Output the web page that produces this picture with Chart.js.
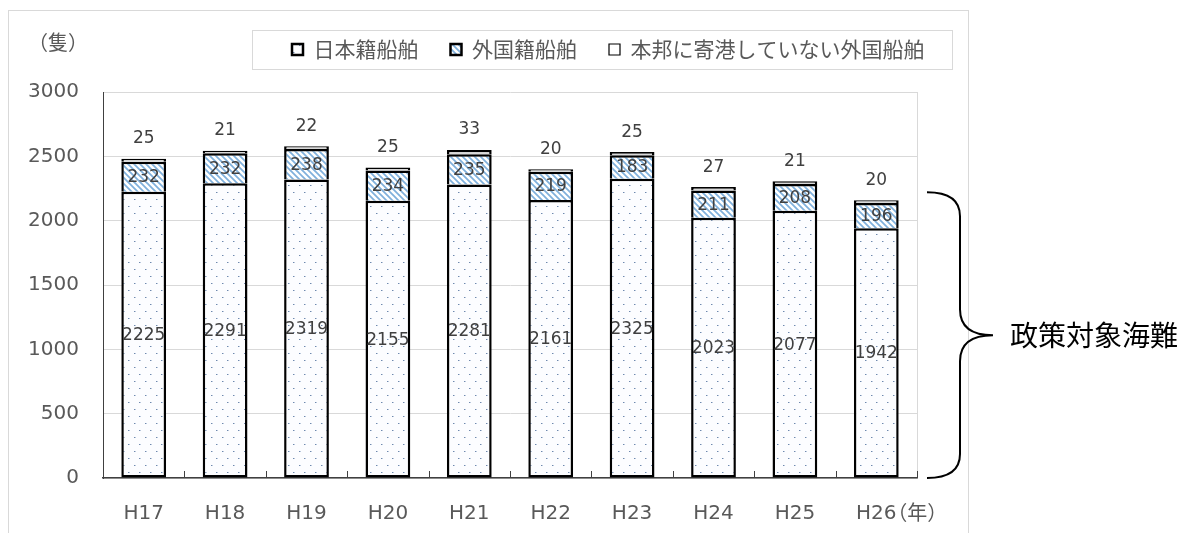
<!DOCTYPE html>
<html lang="ja">
<head>
<meta charset="utf-8">
<title>海難隻数の推移</title>
<script src="https://cdn.jsdelivr.net/npm/chart.js@4.4.0/dist/chart.umd.min.js"></script>
<style>
  html, body { margin: 0; padding: 0; background: #fff; }
  #wrap { width: 1182px; height: 533px; }
</style>
</head>
<body>
<div id="wrap"><canvas id="chart" width="1182" height="533"></canvas></div>
<script>
'use strict';

// ── Data ──────────────────────────────────────────────────────
const years           = ['H17', 'H18', 'H19', 'H20', 'H21', 'H22', 'H23', 'H24', 'H25', 'H26'];
const japanShips      = [2225, 2291, 2319, 2155, 2281, 2161, 2325, 2023, 2077, 1942];
const foreignShips    = [232, 232, 238, 234, 235, 219, 183, 211, 208, 196];
const nonCallingShips = [25, 21, 22, 25, 33, 20, 25, 27, 21, 20];
const seriesNames     = ['日本籍船舶', '外国籍船舶', '本邦に寄港していない外国船舶'];
const yMin = 0, yMax = 3000, yStep = 500;
const bracketRange = [0, 2220];   // 政策対象海難 brace, in axis units

const NUM_FONT = "'DejaVu Sans', sans-serif";
const CJK_FONT = "'Noto Sans CJK JP', sans-serif";

// ── Fill patterns ─────────────────────────────────────────────
function makePattern(w, h, draw) {
  const c = document.createElement('canvas');
  c.width = w; c.height = h;
  const g = c.getContext('2d');
  draw(g, w, h);
  return g.createPattern(c, 'repeat');
}

const dotFill = makePattern(11, 14, (g, w, h) => {
  g.fillStyle = '#fcfdff';
  g.fillRect(0, 0, w, h);
  g.fillStyle = '#6f89ad';
  g.fillRect(2, 3, 1, 1);
  g.fillRect(7, 10, 1, 1);
  g.fillStyle = '#b9c8dc';
  g.fillRect(3, 3, 1, 1);
  g.fillRect(8, 10, 1, 1);
});

const hatchFill = makePattern(6, 6, (g, w, h) => {
  g.fillStyle = '#ffffff';
  g.fillRect(0, 0, w, h);
  g.strokeStyle = '#7fb0dc';
  g.lineWidth = 1.7;
  g.beginPath();
  g.moveTo(-1, -1);    g.lineTo(w + 1, h + 1);
  g.moveTo(-1, h - 1); g.lineTo(1, h + 1);
  g.moveTo(w - 1, -1); g.lineTo(w + 1, 1);
  g.stroke();
});

// ── Plugins ───────────────────────────────────────────────────
const decorations = {
  id: 'decorations',
  afterLayout(chart) {
    // legend sits higher and further right than Chart.js would put it
    const lg = chart.legend;
    lg.left   = 292 - lg.options.labels.padding;
    lg.right  = chart.width;
    lg.top    = 7;
    lg.bottom = lg.top + lg.height;
  },
  beforeDraw(chart) {
    const { ctx } = chart;
    ctx.save();
    ctx.strokeStyle = '#d9d9d9';
    ctx.lineWidth = 1;
    ctx.strokeRect(8.5, 10.5, 960, 600);
    ctx.restore();
  },
  afterDraw(chart) {
    const { ctx, chartArea: a, scales: { x, y } } = chart;
    ctx.save();

    // legend outline
    const hb = chart.legend.legendHitBoxes;
    if (hb.length) {
      const last = hb[hb.length - 1];
      ctx.strokeStyle = '#d9d9d9';
      ctx.lineWidth = 1;
      const l = Math.round(hb[0].left - 40) + 0.5;
      const r = Math.round(last.left + last.width + 28) + 0.5;
      const t = Math.round(hb[0].top - 9) + 0.5;
      const b = Math.round(hb[0].top + hb[0].height + 9) + 0.5;
      ctx.strokeRect(l, t, r - l, b - t);
    }

    // plot right edge
    ctx.strokeStyle = '#d9d9d9';
    ctx.beginPath();
    ctx.moveTo(Math.round(a.right) + 0.5, a.top);
    ctx.lineTo(Math.round(a.right) + 0.5, a.bottom);
    ctx.stroke();

    // inner tick marks between categories
    ctx.strokeStyle = '#404040';
    ctx.lineWidth = 1;
    ctx.beginPath();
    for (let i = 1; i <= years.length; i++) {
      const px = Math.round(x.getPixelForValue(i - 0.5)) + 0.5;
      ctx.moveTo(px, a.bottom);
      ctx.lineTo(px, a.bottom - 7);
    }
    ctx.stroke();

    // unit labels
    ctx.fillStyle = '#595959';
    ctx.font = '20px ' + CJK_FONT;
    ctx.textBaseline = 'middle';
    ctx.textAlign = 'center';
    ctx.fillText('（隻）', 58, 42);
    ctx.textAlign = 'left';
    ctx.fillText('（年）', x.getPixelForValue(years.length - 1) + 11, 512);

    // brace + note
    const yTop = y.getPixelForValue(bracketRange[1]);
    const yBot = y.getPixelForValue(bracketRange[0]);
    const yMid = (yTop + yBot) / 2;
    const x0 = a.right + 10, xv = a.right + 43, xt = a.right + 76;
    ctx.strokeStyle = '#000';
    ctx.lineWidth = 2;
    ctx.beginPath();
    ctx.moveTo(x0, yTop);
    ctx.quadraticCurveTo(xv, yTop, xv, yTop + 24);
    ctx.lineTo(xv, yMid - 26);
    ctx.quadraticCurveTo(xv, yMid, xt, yMid);
    ctx.quadraticCurveTo(xv, yMid, xv, yMid + 26);
    ctx.lineTo(xv, yBot - 24);
    ctx.quadraticCurveTo(xv, yBot, x0, yBot);
    ctx.stroke();

    ctx.fillStyle = '#000';
    ctx.font = '28px ' + CJK_FONT;
    ctx.textAlign = 'left';
    ctx.fillText('政策対象海難', 1010, yMid);
    ctx.restore();
  }
};

const barLabels = {
  id: 'barLabels',
  afterDatasetsDraw(chart) {
    const { ctx } = chart;
    ctx.save();
    ctx.font = '17px ' + NUM_FONT;
    ctx.fillStyle = '#404040';
    ctx.textAlign = 'center';
    ctx.textBaseline = 'middle';
    chart.data.datasets.forEach((ds, di) => {
      chart.getDatasetMeta(di).data.forEach((bar, i) => {
        const { x, y, base } = bar.getProps(['x', 'y', 'base'], true);
        const ty = di === 2 ? y - 20 : (y + base) / 2 + 1;
        ctx.fillText(String(ds.data[i]), x, ty);
      });
    });
    ctx.restore();
  }
};

// ── Chart ─────────────────────────────────────────────────────
const barCommon = {
  borderColor: '#000',
  borderWidth: 2.5,
  barPercentage: 0.55,
  categoryPercentage: 1
};

new Chart(document.getElementById('chart'), {
  type: 'bar',
  data: {
    labels: years,
    datasets: [
      { ...barCommon, label: seriesNames[0], data: japanShips,      backgroundColor: dotFill, borderSkipped: false },
      { ...barCommon, label: seriesNames[1], data: foreignShips,    backgroundColor: hatchFill },
      { ...barCommon, label: seriesNames[2], data: nonCallingShips, backgroundColor: '#d9d9d9' }
    ]
  },
  options: {
    responsive: false,
    animation: false,
    layout: { padding: { top: 29, left: 28, right: 265, bottom: 0 } },
    plugins: {
      tooltip: { enabled: false },
      legend: {
        position: 'top',
        align: 'start',
        labels: {
          color: '#595959',
          font: { family: CJK_FONT, size: 21 },
          boxWidth: 11,
          boxHeight: 11,
          padding: 32,
          generateLabels(chart) {
            const items = Chart.defaults.plugins.legend.labels.generateLabels(chart);
            items.forEach((it, i) => {
              it.strokeStyle = '#000';
              it.lineWidth = i === 2 ? 1.2 : 2.5;
              if (i === 2) it.fillStyle = '#ffffff';
            });
            return items;
          }
        }
      }
    },
    scales: {
      x: {
        stacked: true,
        grid: { display: false },
        border: { color: '#404040', width: 1.5 },
        ticks: { color: '#595959', font: { family: NUM_FONT, size: 20 }, padding: 16 },
        afterFit(s) { s.height = 55; }
      },
      y: {
        stacked: true,
        min: yMin,
        max: yMax,
        grid: { color: '#d9d9d9', drawTicks: false },
        border: { color: '#404040', width: 1 },
        ticks: {
          stepSize: yStep,
          color: '#595959',
          font: { family: NUM_FONT, size: 20 },
          padding: 24,
          callback: v => String(v)
        },
        afterFit(s) { s.width = 75; }
      }
    }
  },
  plugins: [decorations, barLabels]
});
</script>
</body>
</html>
